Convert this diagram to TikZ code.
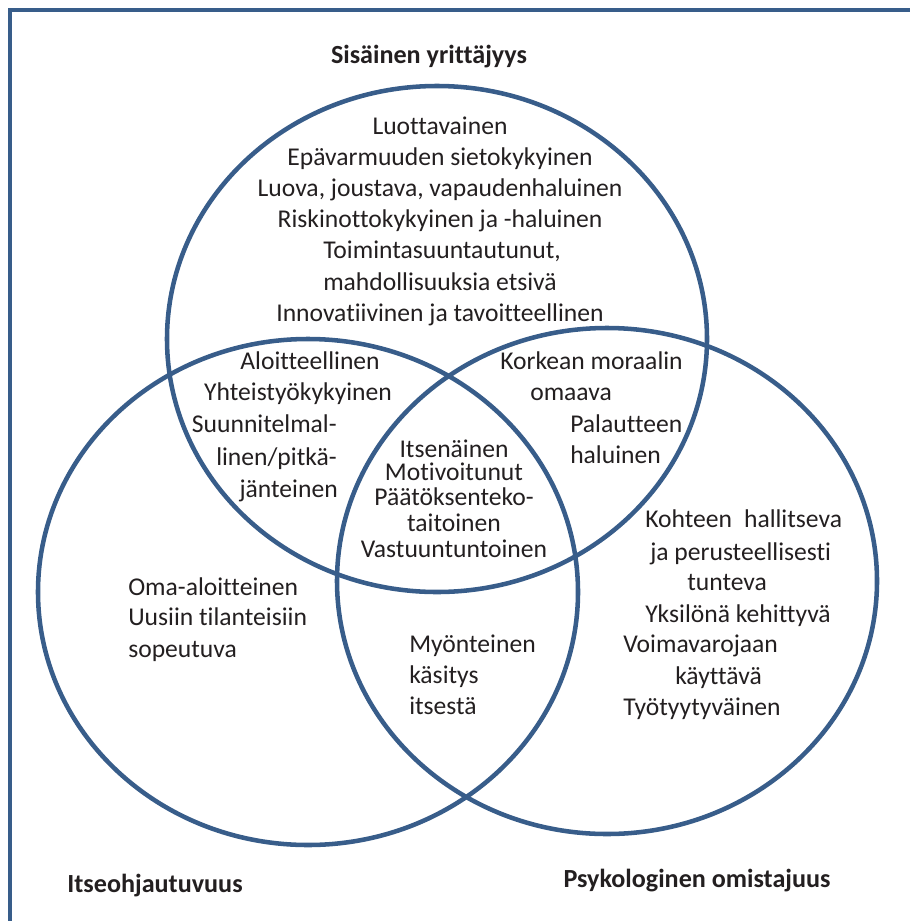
\documentclass[tikz,border=0pt]{standalone}
\usepackage{fontspec}
\setmainfont{Carlito}[Ligatures=NoCommon]
\usetikzlibrary{shapes.geometric}
\definecolor{ringblue}{HTML}{385D8A}
\definecolor{ink}{HTML}{231F20}
\begin{document}
\begin{tikzpicture}[x=0.75pt,y=-0.75pt,
  ring/.style={ellipse, draw=ringblue, line width=3.4pt, inner sep=0pt,
               minimum width=405pt, minimum height=379.5pt},
  frameline/.style={draw=ringblue, line width=3.4pt},
  lbl/.style={text=ink, font=\fontsize{19.2}{23}\selectfont, inner sep=0pt, anchor=mid},
  lblw/.style={lbl, anchor=mid west},
  lble/.style={lbl, anchor=mid east},
  ttl/.style={lbl, font=\fontsize{19.6}{23}\selectfont\bfseries}]
\useasboundingbox (0,0) rectangle (910,921);

% outer frame (left and top edges)
\coordinate (fb) at (10,921);
\coordinate (fc) at (10,10);
\coordinate (fr) at (910,10);
\draw[frameline] (fb) -- (fc) -- (fr);

% the three sets
\node[ring] (top)   at (437,339) {};
\node[ring] (left)  at (308,592) {};
\node[ring] (right) at (607,581) {};

% set titles
\node[ttl] (tTop)   at (429,60)  {Sisäinen yrittäjyys};
\node[ttl] (tLeft)  at (155,889) {Itseohjautuvuus};
\node[ttl] (tRight) at (697,884) {Psykologinen omistajuus};

% top set only
\node[lbl]  (a1) at (440,131) {Luottavainen};
\node[lbl]  (a2) at (440,162) {Epävarmuuden sietokykyinen};
\node[lbl]  (a3) at (440,193) {Luova, joustava, vapaudenhaluinen};
\node[lbl]  (a4) at (440,224) {Riskinottokykyinen ja -haluinen};
\node[lblw] (a5) at (323,255) {Toimintasuuntautunut,};
\node[lblw] (a6) at (323,287) {mahdollisuuksia etsivä};
\node[lbl]  (a7) at (440,318) {Innovatiivinen ja tavoitteellinen};

% top and left
\node[lbl]  (b1) at (310,366) {Aloitteellinen};
\node[lbl]  (b2) at (298,397) {Yhteistyökykyinen};
\node[lble] (b3) at (337,429) {Suunnitelmal-};
\node[lble] (b4) at (337,462) {linen/pitkä-};
\node[lble] (b5) at (338,494) {jänteinen};

% top and right
\node[lblw] (c1) at (500,366) {Korkean moraalin};
\node[lblw] (c2) at (530,397) {omaava};
\node[lblw] (c3) at (570,429) {Palautteen};
\node[lblw] (c4) at (570,460) {haluinen};

% all three
\node[lbl] (d1) at (454,454) {Itsenäinen};
\node[lbl] (d2) at (454,477) {Motivoitunut};
\node[lbl] (d3) at (454,502) {Päätöksenteko-};
\node[lbl] (d4) at (454,528) {taitoinen};
\node[lbl] (d5) at (454,554) {Vastuuntuntoinen};

% right set only
\node[lblw] (e1) at (645,524) {Kohteen\hspace{0.47em}hallitseva};
\node[lblw] (e2) at (650,557) {ja perusteellisesti};
\node[lblw] (e3) at (687,587) {tunteva};
\node[lblw] (e4) at (645,619) {Yksilönä kehittyvä};
\node[lblw] (e5) at (623,649) {Voimavarojaan};
\node[lblw] (e6) at (675,681) {käyttävä};
\node[lblw] (e7) at (623,712) {Työtyytyväinen};

% left set only
\node[lblw] (f1) at (128,592) {Oma-aloitteinen};
\node[lblw] (f2) at (128,622) {Uusiin tilanteisiin};
\node[lblw] (f3) at (128,654) {sopeutuva};

% left and right
\node[lblw] (g1) at (409,649) {Myönteinen};
\node[lblw] (g2) at (409,680) {käsitys};
\node[lblw] (g3) at (409,711) {itsestä};
\end{tikzpicture}
\end{document}
